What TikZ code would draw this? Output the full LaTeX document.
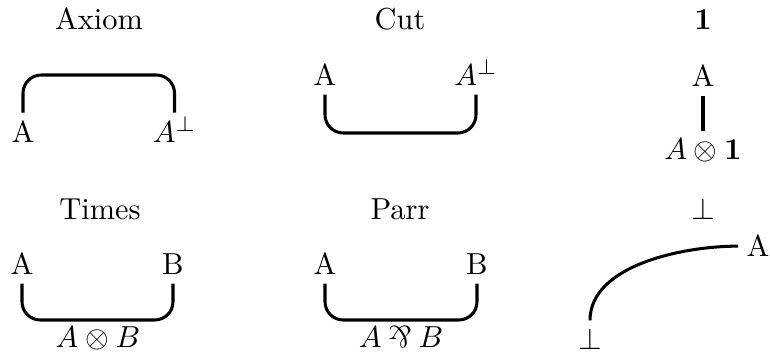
\documentclass[tikz,border=0pt]{standalone}
\usepackage{graphicx}
\newcommand{\myparr}{\mathbin{\rotatebox[origin=c]{180}{$\&$}}}
\begin{document}
\begin{tikzpicture}[x=0.011561cm, y=0.011561cm,
  wire/.style={line width=1pt, rounded corners=6pt},
  lbl/.style={anchor=base, inner sep=2.6pt}]
\useasboundingbox (0,0) rectangle (770,354);
% Axiom
\node[lbl] (tax) at (99,324) {Axiom};
\node[lbl] (ax1) at (23,211) {A};
\node[lbl] (ax2) at (174.5,211) {$A^\perp$};
\coordinate (axm) at (99,279);
\draw[wire] (ax1.north) -- (ax1.north |- axm) -- (ax2.center |- axm) -- (ax2.center |- ax1.north);
% Cut
\node[lbl] (tcut) at (400,324) {Cut};
\node[lbl] (c1) at (325,268) {A};
\node[lbl] (c2) at (476,268) {$A^\perp$};
\coordinate (cm) at (400,221);
\draw[wire] (c1.south) -- (c1.south |- cm) -- (c2.south |- cm) -- (c2.south);
% One
\node[lbl] (tone) at (703,324) {$\mathbf{1}$};
\node[lbl] (o1) at (703,267) {A};
\node[lbl] (o2) at (703,194) {$A\otimes\mathbf{1}$};
\draw[wire] (o1.south) -- (o2.north);
% Times
\node[lbl] (ttimes) at (100,134) {Times};
\node[lbl] (t1) at (22,79) {A};
\node[lbl] (t2) at (173,79) {B};
\coordinate (tm) at (98,34);
\draw[wire] (t1.south) -- (t1.south |- tm) -- (t2.south |- tm) -- (t2.south);
\node[lbl] (t3) at (98,6) {$A\otimes B$};
% Parr
\node[lbl] (tparr) at (400,134) {Parr};
\node[lbl] (p1) at (325,79) {A};
\node[lbl] (p2) at (477,79) {B};
\coordinate (pm) at (401,34);
\draw[wire] (p1.south) -- (p1.south |- pm) -- (p2.south |- pm) -- (p2.south);
\node[lbl] (p3) at (401,6) {$A\myparr B$};
% Bot
\node[lbl] (tbot) at (703,134) {$\bot$};
\node[lbl] (bA) at (758,97) {A};
\node[lbl] (bB) at (590,4) {$\bot$};
\draw[line width=1pt] (bB.north) to[out=90,in=180,looseness=0.85] (bA.west);
\end{tikzpicture}
\end{document}
